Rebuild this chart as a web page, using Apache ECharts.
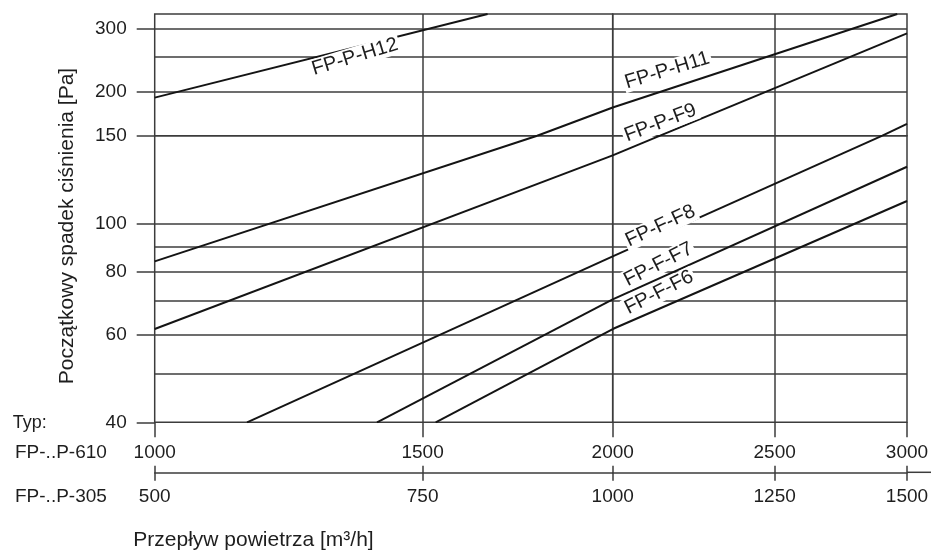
<!DOCTYPE html>
<html>
<head>
<meta charset="utf-8">
<script src="https://cdn.jsdelivr.net/npm/echarts@6/dist/echarts.min.js"></script>
<style>
html,body{margin:0;padding:0;background:#ffffff;}
#chart{width:931px;height:553px;}
</style>
</head>
<body>
<div id="chart"></div>
<script>
// ---- Data ----
// Air flow for type FP-..P-610 [m3/h] and initial pressure drop [Pa]
// (points are the ends of each curve plus where it crosses the 150 Pa / 2000 m3/h grid lines)
const flowH12 = [1000, 1655];
const dropH12 = [192, 330];
const flowH11 = [1000, 1784, 2000, 2960];
const dropH11 = [84, 150, 180, 330];
const flowF9 = [1000, 2000, 2135, 3000];
const dropF9 = [61.5, 137, 150, 291];
const flowF8 = [1150, 2000, 2900, 3000];
const dropF8 = [40, 86, 150, 162];
const flowF7 = [1400, 2000, 3000];
const dropF7 = [40, 70.5, 130];
const flowF6 = [1530, 2000, 3000];
const dropF6 = [40, 61.5, 111];

const seriesNames = ['FP-P-H12', 'FP-P-H11', 'FP-P-F9', 'FP-F-F8', 'FP-F-F7', 'FP-F-F6'];
// where each curve name sits (flow, drop)
const labelFlow = [1354, 2156, 2136, 2136, 2130, 2132];
const labelDrop = [250, 229, 163, 98.9, 82.8, 72.8];

// tick labels and grid lines
const flow610Ticks = [1000, 1500, 2000, 2500, 3000];
const flow305Ticks = [500, 750, 1000, 1250, 1500];
const dropLabelTicks = [40, 60, 80, 100, 150, 200, 300];
const dropGridLines = [50, 60, 70, 80, 90, 100, 150, 200, 250, 300];
const flowGridLines = [1500, 2000, 2500];
const flowRange = [1000, 2000, 3000];
const dropRange = [40, 150, 330];

// ---- styles / layout ----
const TXT = '#1e1e1e';
const GRIDC = '#3c3c3c';
const LINEC = '#141414';
const FONT = '"Liberation Sans", Arial, Helvetica, sans-serif';
const labelRotate = [17, 17, 21, 25, 27, 27];
const PX = {left: 154.7, mid: 612.7, right: 907, top: 14, hmid: 135.7, bottom: 422.3};

const curves = [
  {flow: flowH12, drop: dropH12},
  {flow: flowH11, drop: dropH11},
  {flow: flowF9, drop: dropF9},
  {flow: flowF8, drop: dropF8},
  {flow: flowF7, drop: dropF7},
  {flow: flowF6, drop: dropF6}
];

// four panels: TL, TR, BL, BR (piecewise log axes)
const panels = [
  {xr: [flowRange[0], flowRange[1]], yr: [dropRange[1], dropRange[2]], left: PX.left, top: PX.top, w: PX.mid - PX.left, h: PX.hmid - PX.top},
  {xr: [flowRange[1], flowRange[2]], yr: [dropRange[1], dropRange[2]], left: PX.mid, top: PX.top, w: PX.right - PX.mid, h: PX.hmid - PX.top},
  {xr: [flowRange[0], flowRange[1]], yr: [dropRange[0], dropRange[1]], left: PX.left, top: PX.hmid, w: PX.mid - PX.left, h: PX.bottom - PX.hmid},
  {xr: [flowRange[1], flowRange[2]], yr: [dropRange[0], dropRange[1]], left: PX.mid, top: PX.hmid, w: PX.right - PX.mid, h: PX.bottom - PX.hmid}
];

const EPS = 1e-6;
const inR = (v, r) => v >= r[0] - EPS && v <= r[1] + EPS;
const fmt = v => String(Math.round(v));

const grids = panels.map(p => ({
  left: p.left, top: p.top, width: p.w, height: p.h,
  show: true, borderColor: GRIDC, borderWidth: 1.5, backgroundColor: 'transparent',
  containLabel: false, outerBoundsMode: 'none'
}));

const labelStyle = {color: TXT, fontSize: 19, fontFamily: FONT, formatter: fmt};
const tickLine = {color: GRIDC, width: 1.5};

const xAxes = [];
const yAxes = [];
[0, 1].forEach(g => xAxes.push({type: 'log', gridIndex: g, min: panels[g].xr[0], max: panels[g].xr[1], show: false}));
// FP-..P-610 axis
[2, 3].forEach(g => {
  const r = panels[g].xr;
  const vals = flow610Ticks.filter(v => g === 2 ? (v >= r[0] && v <= r[1]) : (v > r[0] && v <= r[1]));
  xAxes.push({
    type: 'log', gridIndex: g, min: r[0], max: r[1], position: 'bottom',
    axisLine: {show: false},
    axisTick: {show: true, customValues: vals, length: 15, lineStyle: tickLine},
    axisLabel: Object.assign({show: true, customValues: vals, margin: 21}, labelStyle),
    splitLine: {show: false}, minorTick: {show: false}
  });
});
// FP-..P-305 axis: ticks axis + line/label axis
[2, 3].forEach(g => {
  const r = [panels[g].xr[0] / 2, panels[g].xr[1] / 2];
  const vals = flow305Ticks.filter(v => g === 2 ? (v >= r[0] && v <= r[1]) : (v > r[0] && v <= r[1]));
  xAxes.push({
    type: 'log', gridIndex: g, min: r[0], max: r[1], position: 'bottom', offset: 43.4,
    axisLine: {show: false},
    axisTick: {show: true, customValues: vals, length: 15, lineStyle: tickLine},
    axisLabel: {show: false},
    splitLine: {show: false}, minorTick: {show: false}
  });
  const lineAxis = {
    type: 'log', gridIndex: g, min: r[0], max: r[1], position: 'bottom', offset: 50,
    axisLine: {show: true, lineStyle: tickLine},
    axisTick: {show: false},
    axisLabel: Object.assign({show: true, customValues: vals, margin: 15}, labelStyle),
    splitLine: {show: false}, minorTick: {show: false}
  };
  if (g === 3) {
    lineAxis.axisLine.symbol = ['none', 'rect'];
    lineAxis.axisLine.symbolSize = [1.5, 24];
    lineAxis.axisLine.symbolOffset = [0, 12];
  }
  xAxes.push(lineAxis);
});
panels.forEach((p, g) => {
  if (g === 0 || g === 2) {
    const vals = dropLabelTicks.filter(v => g === 2 ? (v >= p.yr[0] && v <= p.yr[1]) : (v > p.yr[0] && v <= p.yr[1]));
    yAxes.push({
      type: 'log', gridIndex: g, min: p.yr[0], max: p.yr[1], position: 'left',
      axisLine: {show: false},
      axisTick: {show: true, customValues: vals, length: 18, lineStyle: tickLine},
      axisLabel: Object.assign({show: true, customValues: vals, margin: 28}, labelStyle),
      splitLine: {show: false}, minorTick: {show: false}
    });
  } else {
    yAxes.push({type: 'log', gridIndex: g, min: p.yr[0], max: p.yr[1], show: false});
  }
});

const series = [];
panels.forEach((p, g) => {
  const gridData = dropGridLines.filter(v => v > p.yr[0] + EPS && v < p.yr[1] - EPS).map(v => ({yAxis: v}))
    .concat(flowGridLines.filter(v => v > p.xr[0] + EPS && v < p.xr[1] - EPS).map(v => ({xAxis: v})));
  const names = [];
  seriesNames.forEach((n, i) => {
    if (inR(labelFlow[i], p.xr) && inR(labelDrop[i], p.yr)) {
      names.push({name: n, coord: [labelFlow[i], labelDrop[i]], label: {rotate: labelRotate[i]}});
    }
  });
  series.push({
    type: 'line', name: 'grid' + g, xAxisIndex: g, yAxisIndex: g, data: [], silent: true,
    markLine: {
      silent: true, symbol: 'none', z: 1, animation: false,
      label: {show: false}, emphasis: {disabled: true},
      lineStyle: {color: GRIDC, width: 1.5, type: 'solid'},
      data: gridData
    },
    markPoint: {
      silent: true, z: 10, symbol: 'circle', symbolSize: 1, animation: false,
      itemStyle: {color: 'rgba(0,0,0,0)'},
      label: {
        show: true, position: 'inside', color: TXT, fontSize: 20, fontFamily: FONT,
        backgroundColor: '#ffffff', padding: [0, 2], lineHeight: 20,
        formatter: prm => prm.name
      },
      data: names
    }
  });
  curves.forEach((c, i) => {
    const pts = c.flow.map((x, k) => [x, c.drop[k]]).filter(pt => inR(pt[0], p.xr) && inR(pt[1], p.yr));
    if (pts.length >= 2) {
      series.push({
        type: 'line', name: seriesNames[i], xAxisIndex: g, yAxisIndex: g, data: pts,
        symbol: 'none', silent: true, z: 3, clip: true,
        lineStyle: {color: LINEC, width: 2}
      });
    }
  });
});

const chart = echarts.init(document.getElementById('chart'), null, {renderer: 'canvas'});
chart.setOption({
  animation: false,
  backgroundColor: '#ffffff',
  textStyle: {fontFamily: FONT},
  grid: grids,
  xAxis: xAxes,
  yAxis: yAxes,
  series: series,
  graphic: [
    {type: 'text', x: 12.7, y: 422.7, silent: true, style: {text: 'Typ:', font: '18px ' + FONT, fill: TXT, align: 'left', verticalAlign: 'middle'}},
    {type: 'text', x: 15, y: 452.7, silent: true, style: {text: 'FP-..P-610', font: '19px ' + FONT, fill: TXT, align: 'left', verticalAlign: 'middle'}},
    {type: 'text', x: 15, y: 496.7, silent: true, style: {text: 'FP-..P-305', font: '19px ' + FONT, fill: TXT, align: 'left', verticalAlign: 'middle'}},
    {type: 'text', x: 133.3, y: 540, silent: true, style: {text: 'Przepływ powietrza [m³/h]', font: '21px ' + FONT, fill: TXT, align: 'left', verticalAlign: 'middle'}},
    {type: 'text', x: 67.5, y: 226, rotation: Math.PI / 2, silent: true, style: {text: 'Początkowy spadek ciśnienia [Pa]', font: '21px ' + FONT, fill: TXT, align: 'center', verticalAlign: 'middle'}}
  ]
});
</script>
</body>
</html>
